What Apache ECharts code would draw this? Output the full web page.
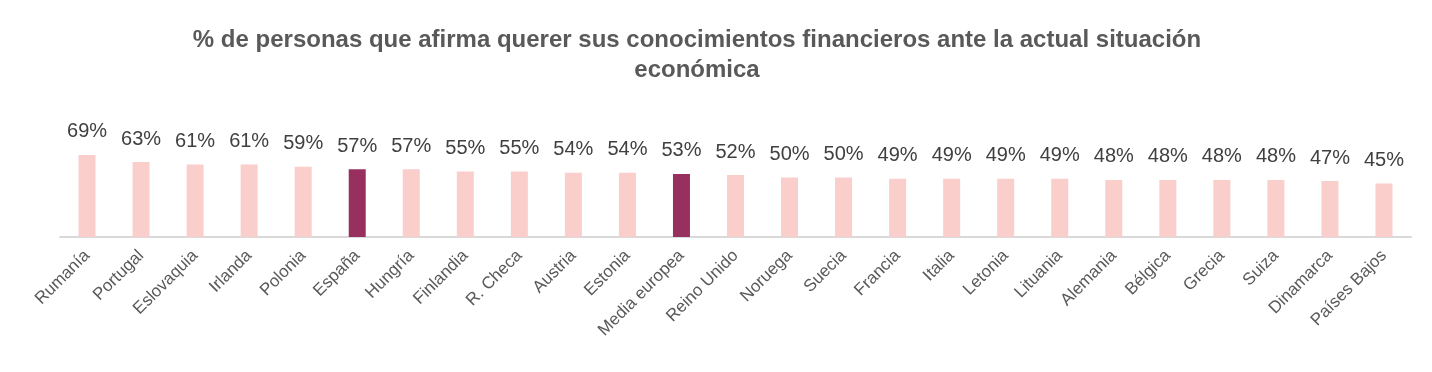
<!DOCTYPE html>
<html><head><meta charset="utf-8">
<script src="https://cdn.jsdelivr.net/npm/echarts@6/dist/echarts.min.js"></script>
<style>html,body{margin:0;padding:0;background:#fff}#c{width:1432px;height:372px}</style>
</head><body><div id="c"></div>
<script>
const categories = ["Rumanía","Portugal","Eslovaquia","Irlanda","Polonia","España","Hungría","Finlandia","R. Checa","Austria","Estonia","Media europea","Reino Unido","Noruega","Suecia","Francia","Italia","Letonia","Lituania","Alemania","Bélgica","Grecia","Suiza","Dinamarca","Países Bajos"];
const values = [69,63,61,61,59,57,57,55,55,54,54,53,52,50,50,49,49,49,49,48,48,48,48,47,45];
const highlighted = ["España","Media europea"];
const titleText = "% de personas que afirma querer sus conocimientos financieros ante la actual situación\neconómica";

const chart = echarts.init(document.getElementById('c'));
chart.setOption({
  animation:false,
  title:{text:titleText,left:692,top:20,textAlign:'center',
    textStyle:{fontFamily:'Liberation Sans, Arial',fontWeight:'bold',fontSize:24,color:'#595959',lineHeight:30}},
  grid:{left:60,right:21,top:118,bottom:135},
  xAxis:{type:'category',data:categories,
    axisLine:{lineStyle:{color:'#d9d9d9',width:2}},axisTick:{show:false},
    axisLabel:{rotate:45,interval:0,margin:16,fontFamily:'Liberation Sans, Arial',fontSize:17,color:'#595959'}},
  yAxis:{type:'value',min:0,max:100,show:false,splitLine:{show:false}},
  series:[{type:'bar',barWidth:17,
    data:values.map((v,i)=>({value:v,itemStyle:{color:highlighted.includes(categories[i])?'#97305E':'#F9CECB'}})),
    label:{show:true,position:'top',distance:13,formatter:'{c}%',fontFamily:'Liberation Sans, Arial',fontSize:20,color:'#404040'}}]
});
</script></body></html>
